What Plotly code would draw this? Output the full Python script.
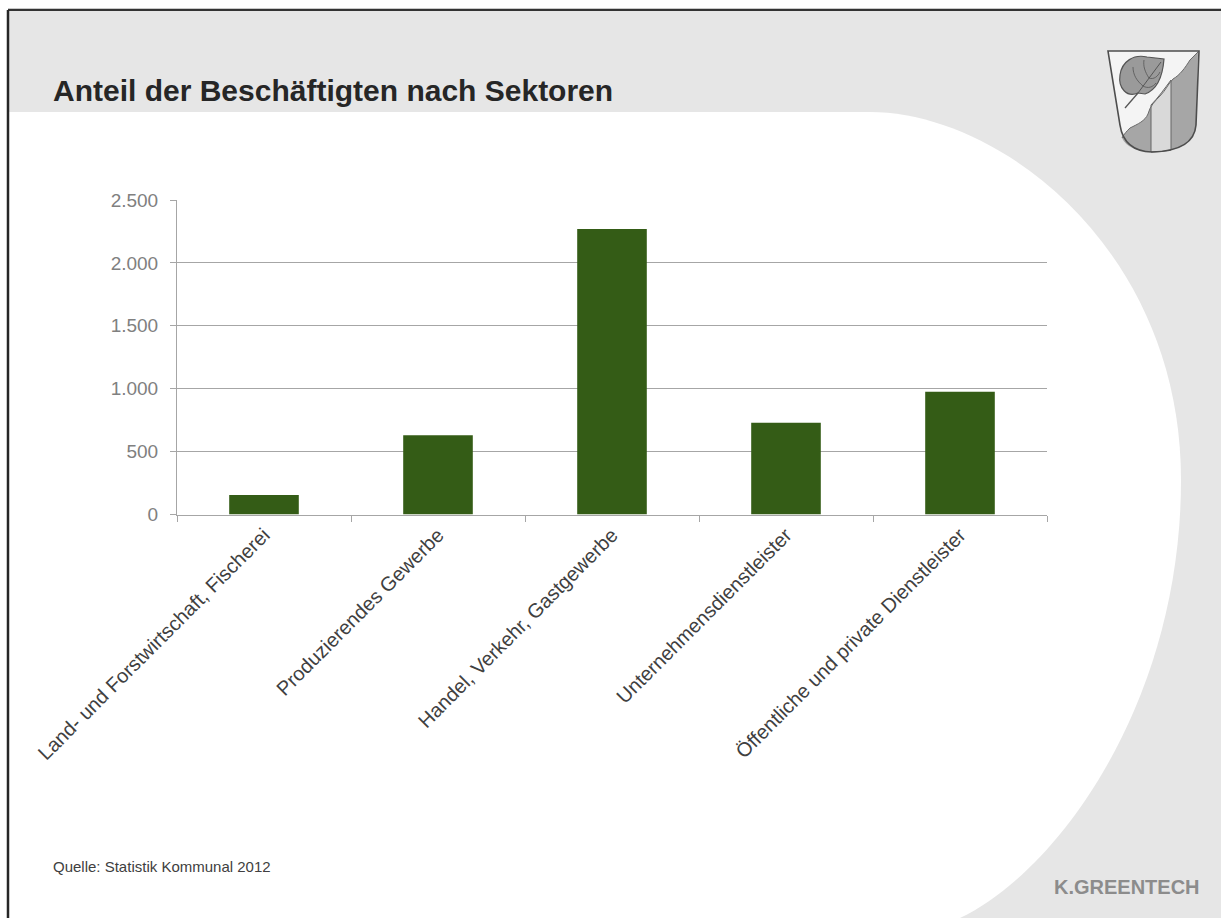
import re
import plotly.graph_objects as go

W, H = 1221, 918

categories = [
    "Land- und Forstwirtschaft, Fischerei",
    "Produzierendes Gewerbe",
    "Handel, Verkehr, Gastgewerbe",
    "Unternehmensdienstleister",
    "Öffentliche und private Dienstleister",
]
beschaeftigte = [155, 630, 2270, 730, 975]

title_text = "Anteil der Beschäftigten nach Sektoren"
source_text = "Quelle: Statistik Kommunal 2012"
brand_text = "K.GREENTECH"

FONT = "Liberation Sans, Arial, sans-serif"


def px(x, y):
    return x / W, 1 - y / H


def conv(s):
    toks = re.findall(r"[MLCQZ]|-?\d+\.?\d*", s)
    out, pend = [], None
    for t in toks:
        if t.isalpha():
            out.append(t)
        elif pend is None:
            pend = float(t)
        else:
            a, b = px(pend, float(t))
            out.append(f"{a:.5f},{b:.5f}")
            pend = None
    return " ".join(out)


shapes = []


def add_path(p, fill=None, line=None, lw=0, layer="below"):
    shapes.append(dict(
        type="path", xref="paper", yref="paper", path=conv(p),
        fillcolor=fill if fill else "rgba(0,0,0,0)",
        line=dict(color=line if line else "rgba(0,0,0,0)", width=lw),
        layer=layer,
    ))


# slide background
add_path("M8,10 L1221,10 L1221,918 L8,918 Z", fill="#e6e6e6")
# white content area with curved right edge
add_path("M9,112 L870,112 C1000,112 1181,250 1181,480 "
         "C1181,700 1060,870 960,918 L9,918 Z", fill="#ffffff")
# frame lines
add_path("M8,8.5 L1221,8.5", line="#c8c8c8", lw=1)
add_path("M8,10 L1221,10", line="#333333", lw=2)
add_path("M8,10 L8,918", line="#262626", lw=2.5)

# coat of arms (logo)
shield = "M1108,51 L1199,51 L1196,125 Q1194,151 1152,152 Q1124,151 1120,125 Z"
add_path(shield, fill="#f4f4f4", layer="above")
add_path("M1198,52 L1190,60 C1185,68 1180,75 1173,79 C1168,84 1166,90 1160,96 "
         "C1155,101 1150,106 1148,114 C1145,121 1138,124 1130,128 "
         "C1127,131 1124,134 1122,138 Q1128,151 1152,152 Q1194,151 1196,125 Z",
         fill="#a6a6a6", layer="above")
add_path("M1151,105 C1158,98 1165,88 1171,80 L1171,150 Q1162,152 1151,152 Z",
         fill="#d9d9d9", line="#666666", lw=1, layer="above")
add_path("M1198,52 L1190,60 C1185,68 1180,75 1173,79 C1168,84 1166,90 1160,96 "
         "C1155,101 1150,106 1148,114 C1145,121 1138,124 1130,128 "
         "C1127,131 1124,134 1122,138", line="#6a6a6a", lw=1, layer="above")
# leaf
add_path("M1138,93 C1127,98 1118,88 1120,75 C1122,61 1134,54 1147,57 "
         "L1164,59 C1163,72 1159,89 1145,94 Z",
         fill="#9a9a9a", line="#555555", lw=1.2, layer="above")
add_path("M1138,93 L1161,62", line="#555555", lw=1, layer="above")
add_path("M1138,93 L1125,108", line="#555555", lw=1.3, layer="above")
add_path("M1143,86 C1137,81 1133,75 1133,67", line="#555555", lw=0.8, layer="above")
add_path("M1149,78 C1145,72 1143,66 1144,60", line="#555555", lw=0.8, layer="above")
add_path("M1143,86 C1148,89 1153,87 1156,83", line="#555555", lw=0.8, layer="above")
add_path("M1149,78 C1154,80 1158,76 1160,72", line="#555555", lw=0.8, layer="above")
# shield outline on top
add_path(shield, line="#4d4d4d", lw=1.6, layer="above")

annotations = [
    dict(text=f"<b>{title_text}</b>", x=px(51, 0)[0], y=px(0, 91)[1],
         xref="paper", yref="paper", xanchor="left", yanchor="middle",
         showarrow=False, font=dict(family=FONT, size=30, color="#262626")),
    dict(text=source_text, x=px(51, 0)[0], y=px(0, 866)[1],
         xref="paper", yref="paper", xanchor="left", yanchor="middle",
         showarrow=False, font=dict(family=FONT, size=15, color="#404040")),
    dict(text=f"<b>{brand_text}</b>", x=px(1202, 0)[0], y=px(0, 887)[1],
         xref="paper", yref="paper", xanchor="right", yanchor="middle",
         showarrow=False, font=dict(family=FONT, size=20, color="#8c8c8c")),
]

fig = go.Figure(go.Bar(
    x=categories, y=beschaeftigte,
    marker=dict(color="#345c16", line=dict(width=0)),
    hoverinfo="x+y",
))

axis_grey = "#a6a6a6"
fig.update_layout(
    template="none",
    width=W, height=H,
    autosize=False,
    margin=dict(l=0, r=0, t=0, b=0, pad=0, autoexpand=False),
    paper_bgcolor="#ffffff",
    plot_bgcolor="rgba(0,0,0,0)",
    separators=",.",
    bargap=0.6,
    showlegend=False,
    font=dict(family=FONT),
    shapes=shapes,
    annotations=annotations,
    xaxis=dict(
        domain=[177 / W, 1047 / W],
        automargin=False,
        showline=True, linecolor=axis_grey, linewidth=1,
        ticks="outside", tickson="boundaries", ticklen=6,
        tickcolor=axis_grey, tickwidth=1,
        tickangle=-45, showgrid=False, zeroline=False,
        tickfont=dict(family=FONT, size=20, color="#404040"),
    ),
    yaxis=dict(
        domain=[1 - 514.5 / H, 1 - 200 / H],
        automargin=False,
        range=[0, 2500], dtick=500, tickformat=",d",
        showgrid=True, gridcolor=axis_grey, gridwidth=1,
        showline=True, linecolor=axis_grey, linewidth=1,
        ticks="outside", ticklen=6, tickcolor=axis_grey, tickwidth=1,
        zeroline=False, ticklabelstandoff=8,
        tickfont=dict(family=FONT, size=19, color="#808080"),
    ),
)

fig.write_html("out.html")
